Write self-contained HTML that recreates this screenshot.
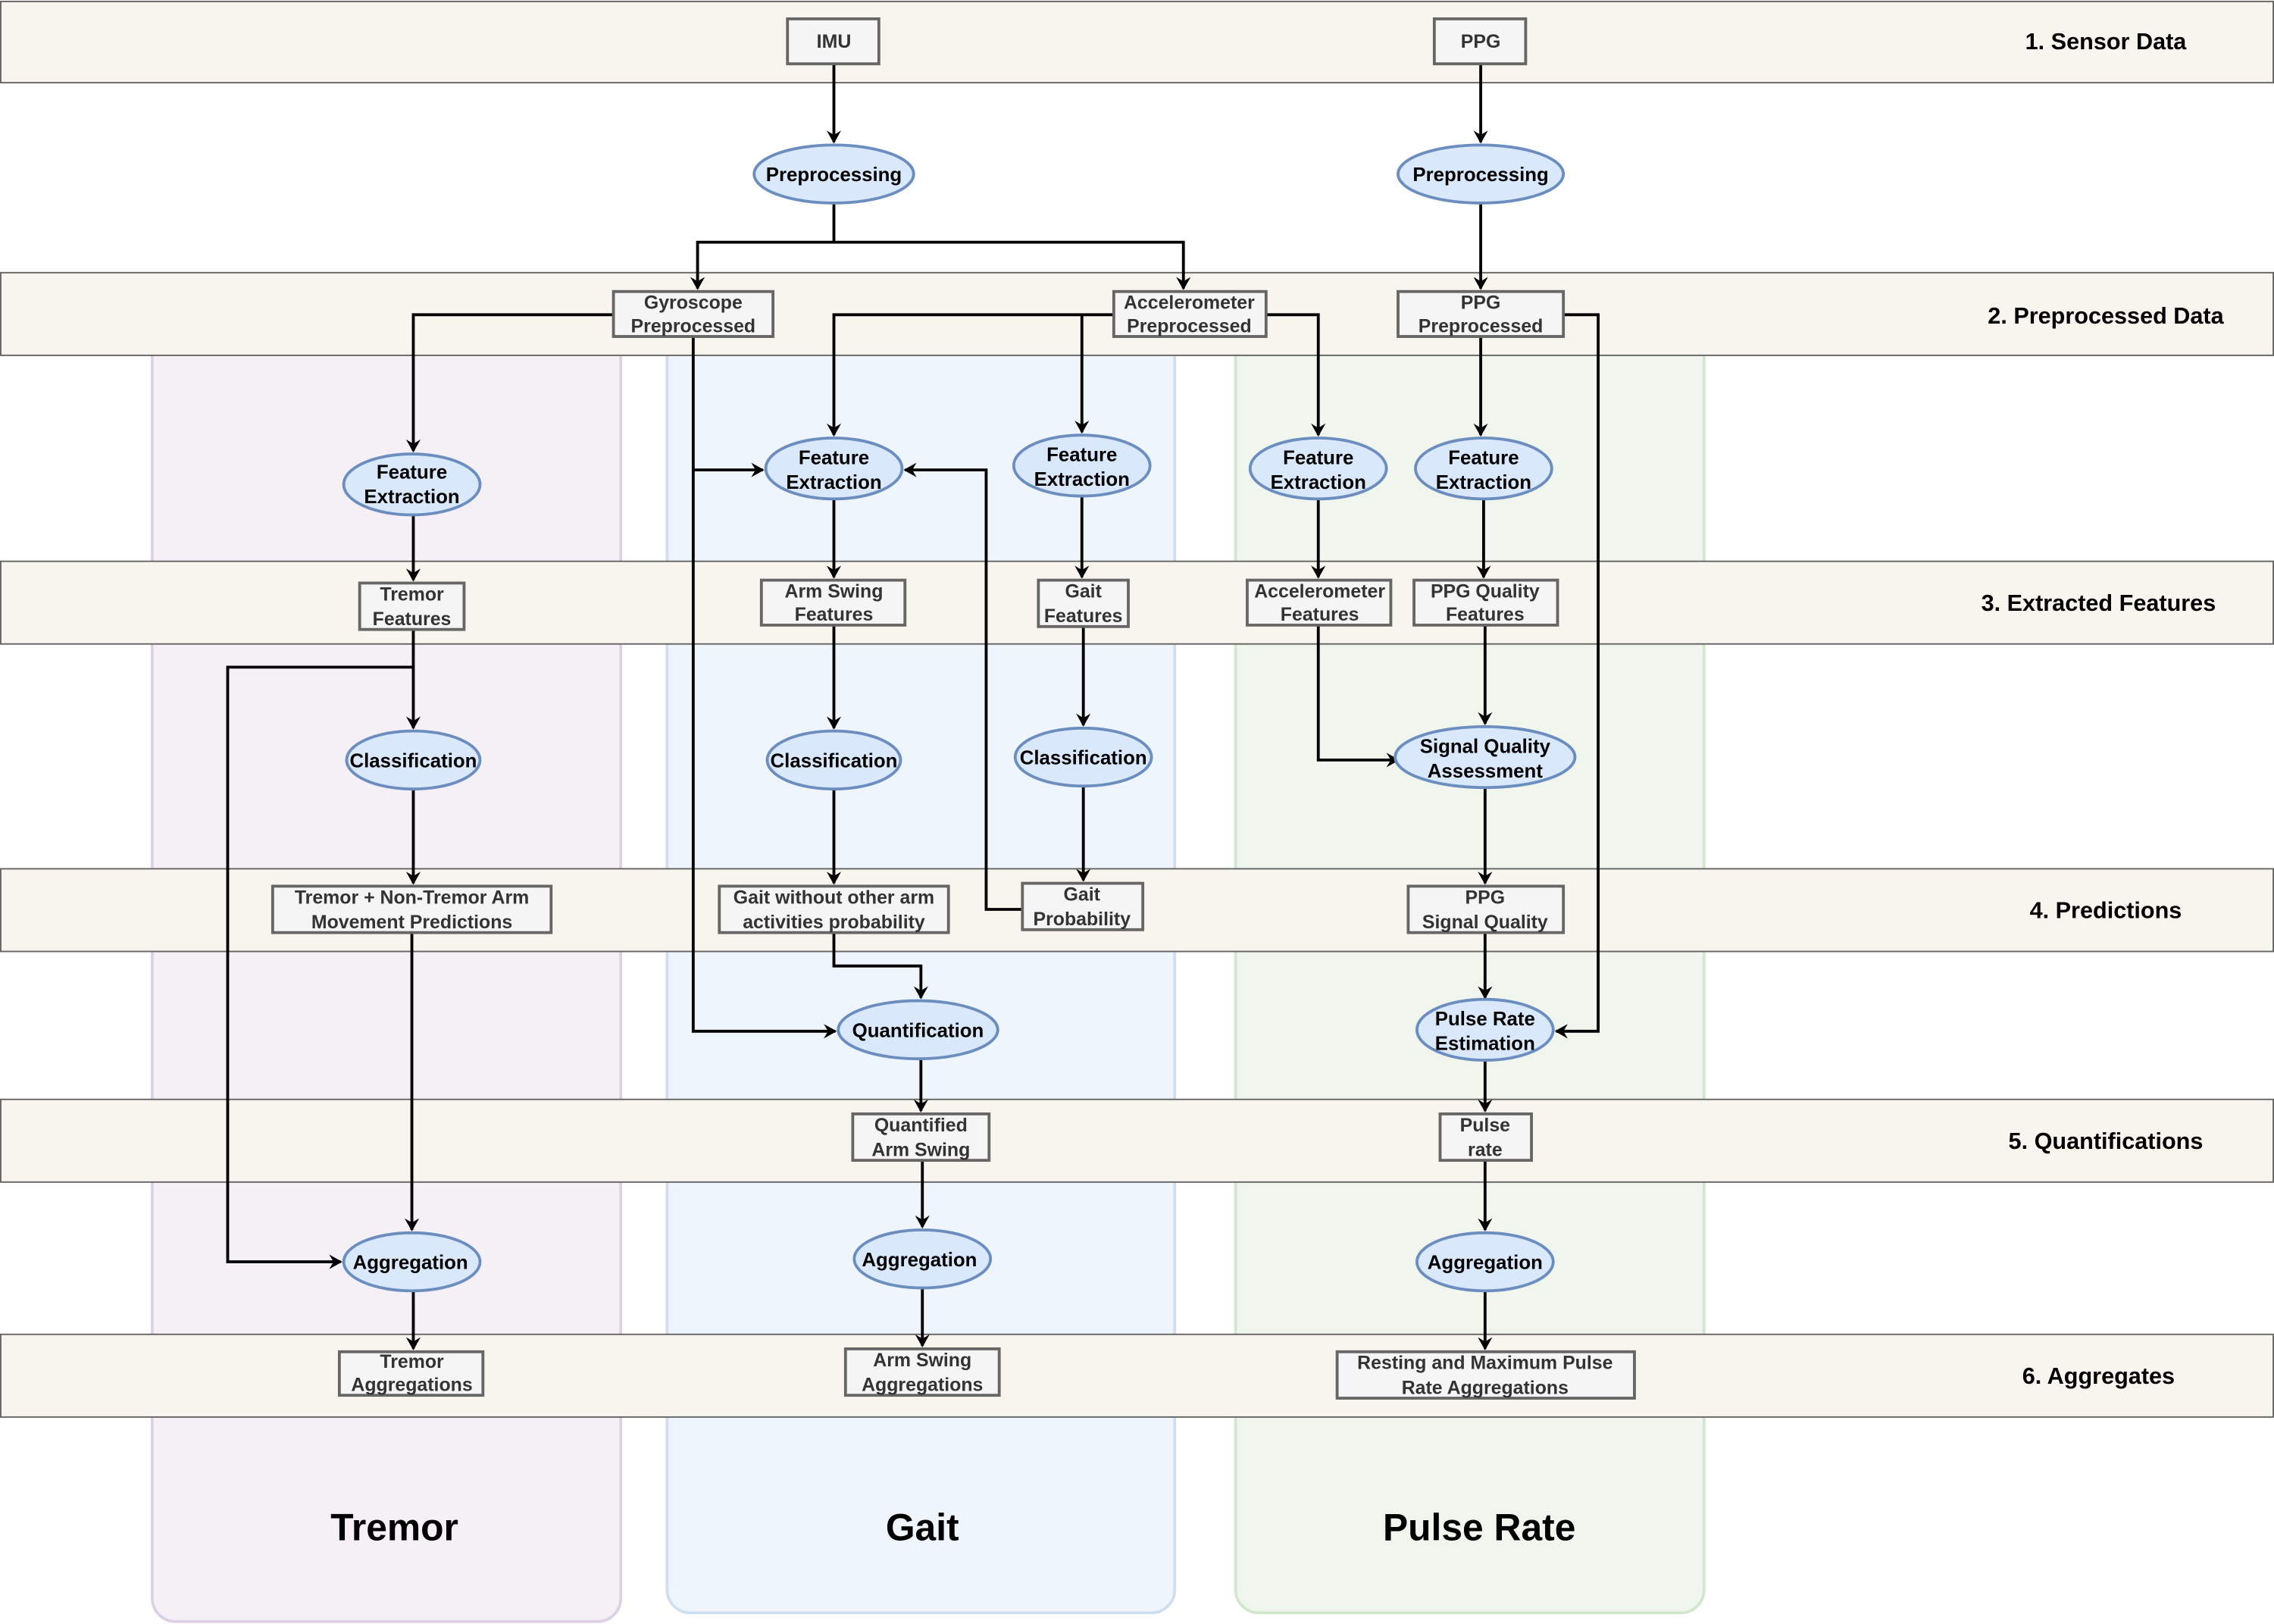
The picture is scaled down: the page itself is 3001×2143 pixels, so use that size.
<!DOCTYPE html>
<html><head><meta charset="utf-8"><style>html,body{margin:0;padding:0;background:#fff}svg{display:block}</style></head>
<body>
<svg width="3001" height="2143" viewBox="0 0 1568 1119.7" preserveAspectRatio="none" xmlns="http://www.w3.org/2000/svg" font-family="Liberation Sans, sans-serif">
<defs><marker id="a" markerWidth="10" markerHeight="10" refX="8" refY="5" orient="auto" markerUnits="userSpaceOnUse"><path d="M0,0 L9,5 L0,10 L3,5 Z" fill="#000"/></marker></defs>
<rect x="0" y="0" width="1568" height="1120" fill="#fff"/>
<!-- lanes -->
<rect x="105" y="200" width="323" height="918" rx="16" fill="#f5f0f6" stroke="#dcd0e4" stroke-width="2"/>
<rect x="460" y="200" width="350" height="912" rx="16" fill="#eff5fc" stroke="#cfdff0" stroke-width="2"/>
<rect x="852" y="200" width="323" height="912" rx="16" fill="#f0f6ee" stroke="#d2e8cc" stroke-width="2"/>
<!-- bands -->
<g fill="#f7f5ee" stroke="#666" stroke-width="1">
<rect x="0.5" y="1" width="1567" height="56"/>
<rect x="0.5" y="188" width="1567" height="57"/>
<rect x="0.5" y="387" width="1567" height="57"/>
<rect x="0.5" y="599" width="1567" height="57"/>
<rect x="0.5" y="758" width="1567" height="57"/>
<rect x="0.5" y="920" width="1567" height="57"/>
</g>
<g font-weight="bold" font-size="16" fill="#000" text-anchor="middle">
<text x="1452" y="34">1. Sensor Data</text>
<text x="1452" y="223">2. Preprocessed Data</text>
<text x="1447" y="421">3. Extracted Features</text>
<text x="1452" y="633">4. Predictions</text>
<text x="1452" y="792">5. Quantifications</text>
<text x="1447" y="954">6. Aggregates</text>
<text x="272" y="1062" font-size="26">Tremor</text>
<text x="636" y="1062" font-size="26">Gait</text>
<text x="1020" y="1062" font-size="26">Pulse Rate</text>
</g>
<!-- edges -->
<g fill="none" stroke="#000" stroke-width="2">
<path d="M575,44V98" marker-end="url(#a)"/>
<path d="M1021,44V98" marker-end="url(#a)"/>
<path d="M575,140V167H481V199" marker-end="url(#a)"/>
<path d="M575,167H816V199" marker-end="url(#a)"/>
<path d="M1021,140V199" marker-end="url(#a)"/>
<path d="M423,217H285V311" marker-end="url(#a)"/>
<path d="M478,232V711H576" marker-end="url(#a)"/>
<path d="M478,324H526" marker-end="url(#a)"/>
<path d="M768,217H575V300" marker-end="url(#a)"/>
<path d="M746,217V298" marker-end="url(#a)"/>
<path d="M873,217H909V300" marker-end="url(#a)"/>
<path d="M1021,232V300" marker-end="url(#a)"/>
<path d="M1078,217H1102V711H1073" marker-end="url(#a)"/>
<path d="M285,355V400" marker-end="url(#a)"/>
<path d="M575,344V398" marker-end="url(#a)"/>
<path d="M746,342V398" marker-end="url(#a)"/>
<path d="M909,344V398" marker-end="url(#a)"/>
<path d="M1023,344V398" marker-end="url(#a)"/>
<path d="M285,434V502" marker-end="url(#a)"/>
<path d="M285,460H157V870H235" marker-end="url(#a)"/>
<path d="M575,431V502" marker-end="url(#a)"/>
<path d="M747,432V500" marker-end="url(#a)"/>
<path d="M909,431V524H964" marker-end="url(#a)"/>
<path d="M1024,431V499" marker-end="url(#a)"/>
<path d="M285,544V609" marker-end="url(#a)"/>
<path d="M575,544V609" marker-end="url(#a)"/>
<path d="M747,542V607" marker-end="url(#a)"/>
<path d="M1024,543V609" marker-end="url(#a)"/>
<path d="M705,627H680V324H624" marker-end="url(#a)"/>
<path d="M575,643V666H635V688" marker-end="url(#a)"/>
<path d="M284,643V848" marker-end="url(#a)"/>
<path d="M1024,643V688" marker-end="url(#a)"/>
<path d="M635,730V766" marker-end="url(#a)"/>
<path d="M1024,731V766" marker-end="url(#a)"/>
<path d="M636,800V846" marker-end="url(#a)"/>
<path d="M1024,800V848" marker-end="url(#a)"/>
<path d="M285,890V930" marker-end="url(#a)"/>
<path d="M636,888V928" marker-end="url(#a)"/>
<path d="M1024,890V930" marker-end="url(#a)"/>
</g>
<!-- boxes -->
<g fill="#f5f5f5" stroke="#666" stroke-width="2">
<rect x="543" y="13" width="63" height="31"/>
<rect x="989" y="13" width="63" height="31"/>
<rect x="423" y="201" width="110" height="31"/>
<rect x="768" y="201" width="105" height="31"/>
<rect x="964" y="201" width="114" height="31"/>
<rect x="248" y="402" width="72" height="32"/>
<rect x="525" y="400" width="99" height="31"/>
<rect x="716" y="400" width="62" height="32"/>
<rect x="860" y="400" width="99" height="31"/>
<rect x="975" y="400" width="99" height="31"/>
<rect x="188" y="611" width="192" height="32"/>
<rect x="496" y="611" width="158" height="32"/>
<rect x="705" y="609" width="83" height="32"/>
<rect x="971" y="611" width="107" height="32"/>
<rect x="588" y="768" width="94" height="32"/>
<rect x="993" y="768" width="63" height="32"/>
<rect x="234" y="932" width="99" height="30"/>
<rect x="583" y="930" width="106" height="32"/>
<rect x="922" y="932" width="205" height="32"/>
</g>
<!-- ellipses -->
<g fill="#dae8fc" stroke="#6c8ebf" stroke-width="2">
<ellipse cx="575" cy="120" rx="55" ry="20"/>
<ellipse cx="1021" cy="120" rx="57" ry="20"/>
<ellipse cx="284" cy="334" rx="47" ry="21"/>
<ellipse cx="575" cy="323" rx="47" ry="21"/>
<ellipse cx="746" cy="321" rx="47" ry="21"/>
<ellipse cx="909" cy="323" rx="47" ry="21"/>
<ellipse cx="1023" cy="323" rx="47" ry="21"/>
<ellipse cx="285" cy="524" rx="46" ry="20"/>
<ellipse cx="575" cy="524" rx="46" ry="20"/>
<ellipse cx="747" cy="522" rx="47" ry="20"/>
<ellipse cx="1024" cy="522" rx="62" ry="21"/>
<ellipse cx="633" cy="710" rx="55" ry="20"/>
<ellipse cx="1024" cy="710" rx="47" ry="21"/>
<ellipse cx="284" cy="870" rx="47" ry="20"/>
<ellipse cx="636" cy="868" rx="47" ry="20"/>
<ellipse cx="1024" cy="870" rx="47" ry="20"/>
</g>
<!-- box text -->
<g font-weight="bold" font-size="13" fill="#333" text-anchor="middle">
<text x="575" y="33">IMU</text>
<text x="1021" y="33">PPG</text>
<text x="478" y="213">Gyroscope</text><text x="478" y="229">Preprocessed</text>
<text x="820" y="213">Accelerometer</text><text x="820" y="229">Preprocessed</text>
<text x="1021" y="213">PPG</text><text x="1021" y="229">Preprocessed</text>
<text x="284" y="414">Tremor</text><text x="284" y="431">Features</text>
<text x="575" y="412">Arm Swing</text><text x="575" y="428">Features</text>
<text x="747" y="412">Gait</text><text x="747" y="429">Features</text>
<text x="910" y="412">Accelerometer</text><text x="910" y="428">Features</text>
<text x="1024" y="412">PPG Quality</text><text x="1024" y="428">Features</text>
<text x="284" y="623">Tremor + Non-Tremor Arm</text><text x="284" y="640">Movement Predictions</text>
<text x="575" y="623">Gait without other arm</text><text x="575" y="640">activities probability</text>
<text x="746" y="621">Gait</text><text x="746" y="638">Probability</text>
<text x="1024" y="623">PPG</text><text x="1024" y="640">Signal Quality</text>
<text x="635" y="780">Quantified</text><text x="635" y="797">Arm Swing</text>
<text x="1024" y="780">Pulse</text><text x="1024" y="797">rate</text>
<text x="284" y="943">Tremor</text><text x="284" y="959">Aggregations</text>
<text x="636" y="942">Arm Swing</text><text x="636" y="959">Aggregations</text>
<text x="1024" y="944">Resting and Maximum Pulse</text><text x="1024" y="961">Rate Aggregations</text>
</g>
<!-- ellipse text -->
<g font-weight="bold" font-size="13.5" fill="#000" text-anchor="middle">
<text x="575" y="125">Preprocessing</text>
<text x="1021" y="125">Preprocessing</text>
<text x="284" y="330">Feature</text><text x="284" y="347">Extraction</text>
<text x="575" y="320">Feature</text><text x="575" y="337">Extraction</text>
<text x="746" y="318">Feature</text><text x="746" y="335">Extraction</text>
<text x="909" y="320">Feature</text><text x="909" y="337">Extraction</text>
<text x="1023" y="320">Feature</text><text x="1023" y="337">Extraction</text>
<text x="285" y="529">Classification</text>
<text x="575" y="529">Classification</text>
<text x="747" y="527">Classification</text>
<text x="1024" y="519">Signal Quality</text><text x="1024" y="536">Assessment</text>
<text x="633" y="715">Quantification</text>
<text x="1024" y="707">Pulse Rate</text><text x="1024" y="724">Estimation</text>
<text x="283" y="875">Aggregation</text>
<text x="634" y="873">Aggregation</text>
<text x="1024" y="875">Aggregation</text>
</g>
</svg>
</body></html>
